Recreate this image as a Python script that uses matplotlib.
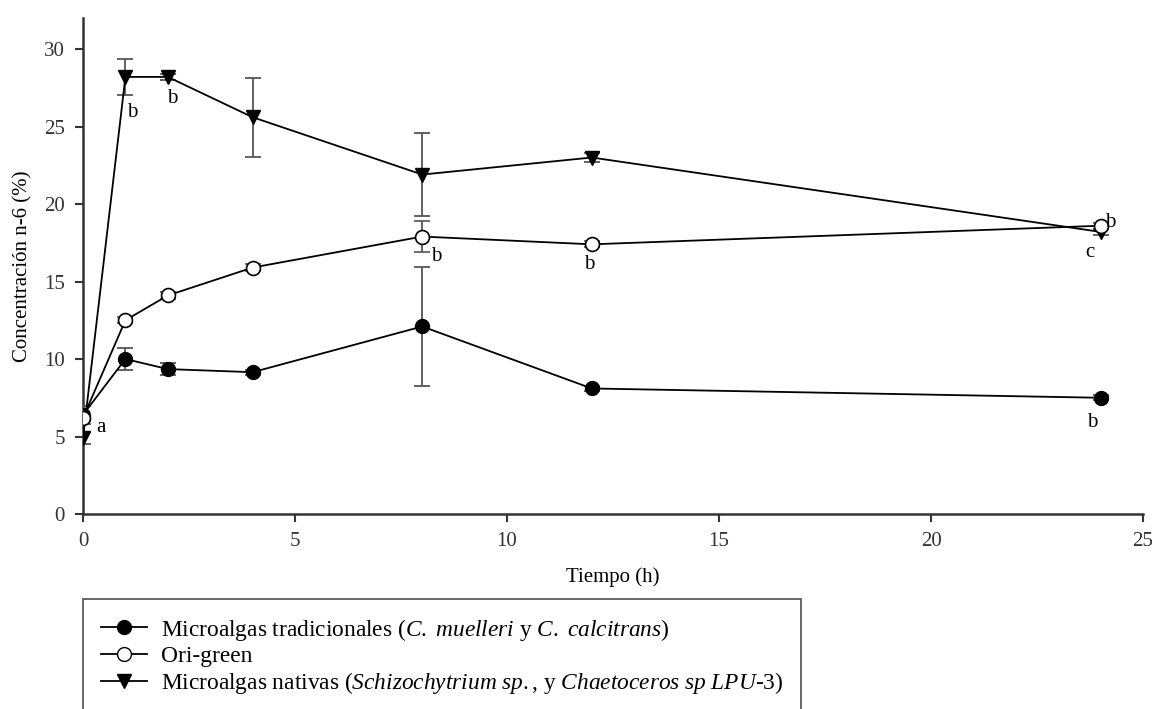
import numpy as np
import matplotlib
matplotlib.use("Agg")
import matplotlib.pyplot as plt
from matplotlib.lines import Line2D

plt.rcParams['font.family'] = ['Liberation Serif', 'DejaVu Serif']
plt.rcParams['mathtext.fontset'] = 'custom'
plt.rcParams['mathtext.rm'] = 'Liberation Serif'
plt.rcParams['mathtext.it'] = 'Liberation Serif:italic'

# tiempo (h)
tiempo = [0, 1, 2, 4, 8, 12, 24]

# Microalgas tradicionales
trad = [6.4, 10.0, 9.35, 9.15, 12.1, 8.1, 7.5]
trad_err = [0.6, 0.7, 0.4, 0.15, 3.85, 0.15, 0.15]

# Ori-green
ori = [6.2, 12.5, 14.1, 15.9, 17.9, 17.4, 18.6]
ori_err = [0.2, 0.2, 0.2, 0.2, 1.0, 0.2, 0.2]

# Microalgas nativas
nat = [4.9, 28.2, 28.2, 25.6, 21.9, 23.0, 18.2]
nat_err = [0.4, 1.15, 0.2, 2.55, 2.65, 0.3, 0.2]

# letras de significancia
letras = ['b', 'b', 'a', 'b', 'b', 'b', 'c', 'b']
letras_x = [1.16, 2.1, 0.42, 8.33, 11.93, 24.22, 23.75, 23.8]
letras_y = [25.9, 26.8, 5.55, 16.6, 16.1, 18.8, 16.9, 5.9]

lab_trad = r'Microalgas tradicionales ($\it{C.\ muelleri}$ y $\it{C.\ calcitrans}$)'
lab_ori = 'Ori-green'
lab_nat = r'Microalgas nativas ($\it{Schizochytrium\ sp.}$, y $\it{Chaetoceros\ sp\ LPU}$-$\it{3}$)'

fig = plt.figure(figsize=(11.56, 7.09), dpi=100)
ax = fig.add_axes([0.0718, 0.275, 0.917, 0.6996])

ebc = '#555555'
ax.errorbar(tiempo, trad, yerr=trad_err, color='black', lw=1.3, marker='o',
            ms=10, mfc='black', mec='black', ecolor=ebc, elinewidth=1.3,
            capsize=6, capthick=1.3, zorder=3)
ax.errorbar(tiempo, nat, yerr=nat_err, color='black', lw=1.3, marker='v',
            ms=10, mfc='black', mec='black', ecolor=ebc, elinewidth=1.3,
            capsize=6, capthick=1.3, zorder=3)
ax.errorbar(tiempo, ori, yerr=ori_err, color='black', lw=1.3, marker='o',
            ms=10, mfc='white', mec='black', mew=1.2, ecolor=ebc, elinewidth=1.3,
            capsize=6, capthick=1.3, zorder=4)

for t, x, y in zip(letras, letras_x, letras_y):
    ax.text(x, y, t, ha='center', va='center', fontsize=15, zorder=5)

ax.set_xlim(0, 25)
ax.set_ylim(0, 32)
ax.set_xticks([0, 5, 10, 15, 20, 25])
ax.set_yticks([0, 5, 10, 15, 20, 25, 30])
for s in ['top', 'right']:
    ax.spines[s].set_visible(False)
for s in ['left', 'bottom']:
    ax.spines[s].set_linewidth(1.8)
    ax.spines[s].set_color('#333333')
ax.tick_params(direction='out', length=6, width=1.5, labelsize=15, pad=7, colors='#333333')
ax.set_xlabel('Tiempo (h)', fontsize=15, labelpad=12)
ax.set_ylabel('Concentración n-6 (%)', fontsize=15, labelpad=8)

h1 = Line2D([], [], color='black', lw=1.3, marker='o', ms=10, mfc='black', mec='black')
h2 = Line2D([], [], color='black', lw=1.3, marker='o', ms=10, mfc='white', mec='black')
h3 = Line2D([], [], color='black', lw=1.3, marker='v', ms=10, mfc='black', mec='black')
leg = fig.legend([h1, h2, h3], [lab_trad, lab_ori, lab_nat], loc='upper left',
                 bbox_to_anchor=(0.072, 0.155), fontsize=16.8, frameon=True,
                 fancybox=False, edgecolor='#333333', handlelength=2.0,
                 labelspacing=0.14, borderpad=0.75, handletextpad=0.6, borderaxespad=0)
leg.get_frame().set_linewidth(1.3)

fig.savefig('out.png', dpi=100)
